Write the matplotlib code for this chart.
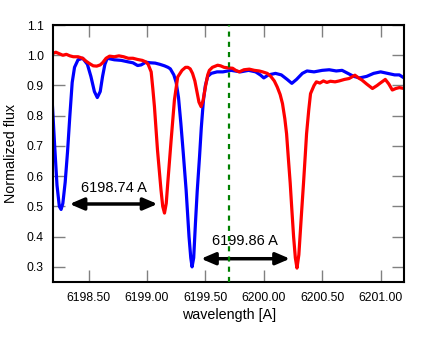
import matplotlib
matplotlib.use("Agg")
import matplotlib.pyplot as plt
from matplotlib.ticker import FormatStrFormatter

plt.rcParams['font.family'] = ['Liberation Sans', 'DejaVu Sans']

# blue spectrum
blue_wl = [6198.19, 6198.21, 6198.23, 6198.25, 6198.265, 6198.28, 6198.30, 6198.32,
           6198.34, 6198.36, 6198.38, 6198.41, 6198.45, 6198.49, 6198.52, 6198.55,
           6198.575, 6198.60, 6198.62, 6198.64, 6198.66, 6198.72, 6198.78, 6198.84,
           6198.88, 6198.92, 6198.95, 6198.99, 6199.03, 6199.07, 6199.11, 6199.15,
           6199.18, 6199.20, 6199.23, 6199.25, 6199.27, 6199.29, 6199.31, 6199.335,
           6199.36, 6199.375, 6199.386, 6199.40, 6199.415, 6199.43, 6199.45, 6199.465,
           6199.483, 6199.50, 6199.52, 6199.55, 6199.60, 6199.65, 6199.72, 6199.80,
           6199.87, 6199.93, 6199.97, 6200.00, 6200.04, 6200.10, 6200.15, 6200.20,
           6200.24, 6200.28, 6200.33, 6200.37, 6200.43, 6200.50, 6200.56, 6200.62,
           6200.67, 6200.72, 6200.77, 6200.82, 6200.88, 6200.94, 6201.00, 6201.06,
           6201.12, 6201.16, 6201.20]
blue_flux = [0.84, 0.70, 0.57, 0.50, 0.49, 0.51, 0.58, 0.68,
             0.80, 0.91, 0.96, 0.985, 0.99, 0.97, 0.93, 0.88,
             0.86, 0.88, 0.93, 0.97, 0.99, 0.985, 0.983, 0.978,
             0.975, 0.966, 0.968, 0.977, 0.975, 0.974, 0.97, 0.965,
             0.96, 0.955, 0.935, 0.91, 0.86, 0.775, 0.68, 0.555,
             0.40, 0.33, 0.30, 0.33, 0.445, 0.55, 0.665, 0.76,
             0.85, 0.90, 0.93, 0.94, 0.945, 0.945, 0.95, 0.945,
             0.95, 0.945, 0.935, 0.925, 0.935, 0.94, 0.935, 0.92,
             0.907, 0.92, 0.94, 0.948, 0.945, 0.95, 0.952, 0.948,
             0.95, 0.94, 0.93, 0.925, 0.93, 0.94, 0.945, 0.94,
             0.935, 0.935, 0.925]

# red spectrum
red_wl = [6198.19, 6198.22, 6198.25, 6198.28, 6198.31, 6198.34, 6198.37, 6198.41,
          6198.45, 6198.48, 6198.51, 6198.54, 6198.57, 6198.60, 6198.62, 6198.65,
          6198.68, 6198.72, 6198.76, 6198.80, 6198.84, 6198.88, 6198.92, 6198.96,
          6198.99, 6199.01, 6199.036, 6199.05, 6199.064, 6199.09, 6199.12, 6199.135,
          6199.15, 6199.165, 6199.178, 6199.207, 6199.235, 6199.263, 6199.30, 6199.33,
          6199.35, 6199.37, 6199.39, 6199.41, 6199.425, 6199.445, 6199.463, 6199.48,
          6199.50, 6199.52, 6199.534, 6199.56, 6199.605, 6199.63, 6199.66, 6199.70,
          6199.733, 6199.76, 6199.79, 6199.83, 6199.876, 6199.92, 6199.96, 6199.99,
          6200.03, 6200.06, 6200.09, 6200.115, 6200.14, 6200.16, 6200.18, 6200.195,
          6200.21, 6200.226, 6200.24, 6200.255, 6200.27, 6200.284, 6200.30, 6200.31,
          6200.325, 6200.34, 6200.355, 6200.366, 6200.385, 6200.40, 6200.43, 6200.45,
          6200.48, 6200.51, 6200.54, 6200.57, 6200.61, 6200.645, 6200.69, 6200.73,
          6200.78, 6200.81, 6200.84, 6200.88, 6200.93, 6200.97, 6200.99, 6201.04,
          6201.07, 6201.10, 6201.13, 6201.16, 6201.20]
red_flux = [1.005, 1.01, 1.005, 1.0, 1.003, 0.998, 0.995, 0.995,
            0.99, 0.98, 0.972, 0.965, 0.964, 0.968, 0.975, 0.99,
            0.997, 0.995, 0.998, 0.995, 0.99, 0.99, 0.986, 0.983,
            0.978, 0.97, 0.945, 0.89, 0.83, 0.687, 0.555, 0.50,
            0.478, 0.51, 0.577, 0.72, 0.852, 0.928, 0.95, 0.96,
            0.96, 0.955, 0.94, 0.915, 0.885, 0.845, 0.83, 0.85,
            0.895, 0.935, 0.95, 0.96, 0.967, 0.965, 0.96, 0.958,
            0.957, 0.95, 0.945, 0.952, 0.954, 0.95, 0.948, 0.945,
            0.94, 0.93, 0.915, 0.895, 0.87, 0.84, 0.79, 0.74,
            0.66, 0.577, 0.49, 0.40, 0.33, 0.296, 0.34, 0.40,
            0.49, 0.577, 0.67, 0.74, 0.82, 0.873, 0.90, 0.912,
            0.908, 0.915, 0.91, 0.914, 0.912, 0.915, 0.92, 0.923,
            0.934, 0.925, 0.918, 0.905, 0.89, 0.90, 0.906, 0.92,
            0.905, 0.885, 0.89, 0.893, 0.89]

marker_wl = 6199.70

# separation arrows: (x_start, x_end, y) and labels
arrow_x0 = [6198.338, 6199.463]
arrow_x1 = [6199.09, 6200.224]
arrow_y = [0.508, 0.327]
label_text = ["6198.74 A", "6199.86 A"]
label_x = [6198.718, 6199.84]
label_y = [0.56, 0.384]

xticks = [6198.5, 6199.0, 6199.5, 6200.0, 6200.5, 6201.0]
yticks = [0.3, 0.4, 0.5, 0.6, 0.7, 0.8, 0.9, 1.0, 1.1]

fig = plt.figure(figsize=(4.36, 3.37), dpi=100)
ax = fig.add_axes([0.1227, 0.1632, 0.8039, 0.7626])

ax.plot(blue_wl, blue_flux, color='blue', lw=2.3)
ax.plot(red_wl, red_flux, color='red', lw=2.3)

for x0, x1, y in zip(arrow_x0, arrow_x1, arrow_y):
    ax.annotate("", xy=(x1, y), xytext=(x0, y),
                arrowprops=dict(arrowstyle='<|-|>,head_length=0.7,head_width=0.3',
                                mutation_scale=12, lw=2.5, color='black',
                                shrinkA=0, shrinkB=0))
for t, x, y in zip(label_text, label_x, label_y):
    ax.text(x, y, t, ha='center', va='center', fontsize=10.5)

# dashed marker drawn on top of everything
ax.axvline(marker_wl, color='green', lw=1.6, linestyle=(0, (2.3, 2.3)), zorder=5)

ax.set_xlim(6198.2, 6201.2)
ax.set_ylim(0.25, 1.1)
ax.set_xticks(xticks)
ax.set_yticks(yticks)
ax.xaxis.set_major_formatter(FormatStrFormatter('%.2f'))
ax.yaxis.set_major_formatter(FormatStrFormatter('%.1f'))
ax.tick_params(direction='in', length=8.5, width=1, color='gray',
               top=True, right=True, labelsize=8.7, pad=7)
for s in ax.spines.values():
    s.set_linewidth(1.5)

ax.set_xlabel("wavelength [A]", fontsize=10.3, labelpad=3)
ax.set_ylabel("Normalized flux", fontsize=10.3, labelpad=6)

fig.savefig("out.png", dpi=100)
